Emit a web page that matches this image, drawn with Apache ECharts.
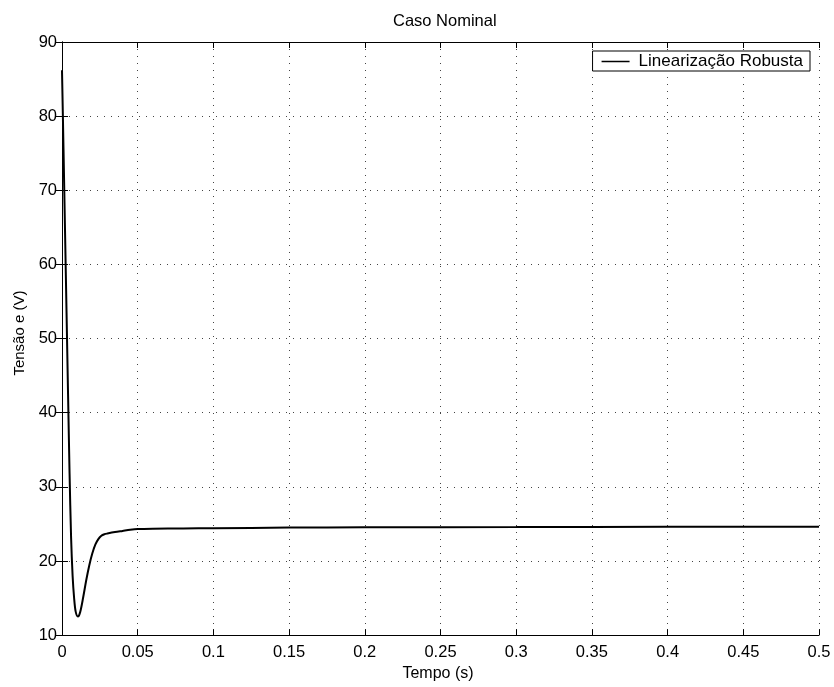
<!DOCTYPE html>
<html><head><meta charset="utf-8">
<script src="https://cdn.jsdelivr.net/npm/echarts@6/dist/echarts.min.js"></script>
<style>html,body{margin:0;padding:0;background:#fff}#c{width:834px;height:687px}</style>
</head><body><div id="c"></div>
<script>
const titleText = 'Caso Nominal';
const xName = 'Tempo (s)';
const yName = 'Tensão e (V)';
const seriesName = 'Linearização Robusta';
const tValues = [0, 0.001, 0.002, 0.003, 0.004, 0.005, 0.006, 0.007, 0.008, 0.009, 0.0105, 0.012, 0.014, 0.016, 0.018, 0.020, 0.022, 0.024, 0.026, 0.028, 0.030, 0.035, 0.040, 0.045, 0.050, 0.060, 0.080, 0.100, 0.150, 0.200, 0.300, 0.400, 0.500];
const vValues = [86.2, 75.5, 64.5, 53.5, 42.5, 31.8, 23.2, 18.0, 15.0, 13.2, 12.5, 13.1, 15.1, 17.4, 19.4, 21.0, 22.2, 22.95, 23.4, 23.6, 23.7, 23.9, 24.05, 24.2, 24.3, 24.35, 24.38, 24.42, 24.5, 24.55, 24.57, 24.6, 24.6];
const xTicks = {min: 0, max: 0.5, interval: 0.05};
const yTicks = {min: 10, max: 90, interval: 10};

const font = 'Liberation Sans, Arial, Helvetica, sans-serif';
const chart = echarts.init(document.getElementById('c'), null, {renderer: 'canvas'});
const data = tValues.map((t, i) => [t, vValues[i]]);
const axisLine = {show: true, lineStyle: {color: '#000', width: 1}};
const splitLine = {show: true, lineStyle: {color: '#444', type: [1, 6], width: 1}};
chart.setOption({
  animation: false,
  backgroundColor: '#fff',
  title: {text: titleText, left: 388, top: 8, textStyle: {fontFamily: font, fontSize: 16.5, fontWeight: 'normal', color: '#000'}},
  legend: {
    data: [{name: seriesName, icon: 'rect'}],
    right: 24, top: 51,
    orient: 'horizontal',
    itemWidth: 28, itemHeight: 1.5,
    backgroundColor: '#fff',
    borderColor: '#000', borderWidth: 1, borderRadius: 0,
    padding: [2, 7, 1, 9],
    textStyle: {fontFamily: font, fontSize: 17, color: '#000', padding: [0, 0, 0, 4]}
  },
  grid: {left: 62, right: 15, top: 42, bottom: 48.5, containLabel: false},
  xAxis: [{
    type: 'value', min: xTicks.min, max: xTicks.max, interval: xTicks.interval,
    name: xName, nameLocation: 'middle', nameGap: 30,
    nameTextStyle: {fontFamily: font, fontSize: 16, color: '#000', padding: [0, 5, 0, 0]},
    axisLine: axisLine,
    axisTick: {show: true, inside: true, length: 6, lineStyle: {color: '#000'}},
    axisLabel: {fontFamily: font, fontSize: 16.5, color: '#000', margin: 9, formatter: v => String(+v.toFixed(2))},
    splitLine: splitLine
  }, {
    type: 'value', position: 'top', min: xTicks.min, max: xTicks.max, interval: xTicks.interval,
    axisLine: axisLine,
    axisTick: {show: true, inside: true, length: 6, lineStyle: {color: '#000'}},
    axisLabel: {show: false}, splitLine: {show: false}
  }],
  yAxis: [{
    type: 'value', min: yTicks.min, max: yTicks.max, interval: yTicks.interval,
    name: yName, nameLocation: 'middle', nameGap: 32, nameRotate: 90,
    nameTextStyle: {fontFamily: font, fontSize: 15, color: '#000', padding: [0, 0, 0, 11]},
    axisLine: axisLine,
    axisTick: {show: true, inside: true, length: 6, lineStyle: {color: '#000'}},
    axisLabel: {fontFamily: font, fontSize: 16.5, color: '#000', margin: 5},
    splitLine: splitLine
  }, {
    type: 'value', position: 'right', min: yTicks.min, max: yTicks.max, interval: yTicks.interval,
    axisLine: axisLine,
    axisTick: {show: true, inside: true, length: 6, lineStyle: {color: '#000'}},
    axisLabel: {show: false}, splitLine: {show: false}
  }],
  series: [{
    name: seriesName, type: 'line', data: data, xAxisIndex: 0, yAxisIndex: 0,
    smooth: 0.3, showSymbol: false, symbol: 'none',
    lineStyle: {color: '#000', width: 2},
    itemStyle: {color: '#000'}
  }]
});
</script>
</body></html>
